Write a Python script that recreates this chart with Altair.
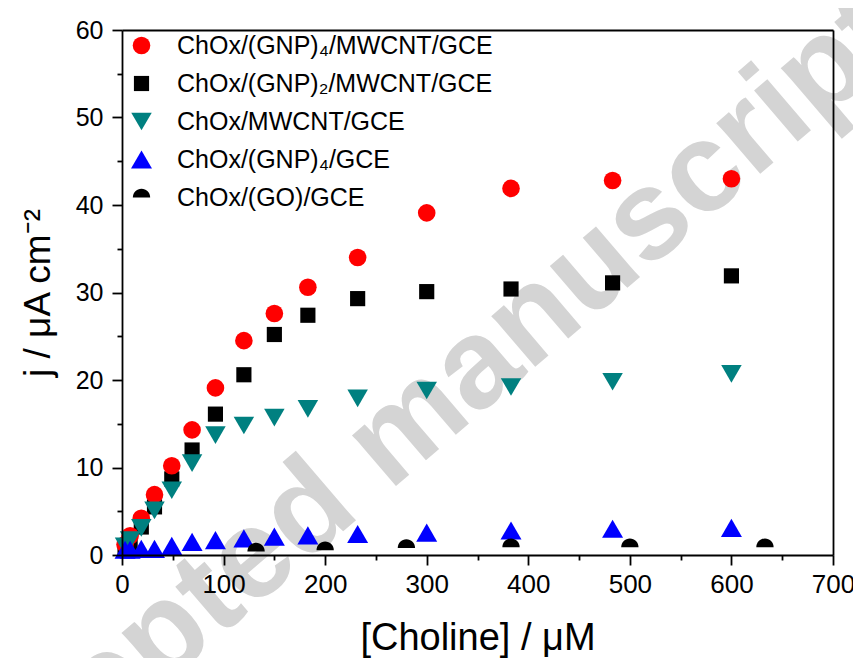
import altair as alt
import pandas as pd

# ---- data ----
conc = [3, 8, 19, 32, 49, 69, 92, 120, 150, 183, 232, 300, 383, 483, 600]
j_gnp4_mwcnt = [1.2, 2.2, 4.2, 6.9, 10.2, 14.3, 19.1, 24.5, 27.6, 30.6, 34.0, 39.1, 41.9, 42.8, 43.0]
j_gnp2_mwcnt = [0.8, 1.4, 3.2, 5.5, 8.7, 12.0, 16.1, 20.6, 25.2, 27.4, 29.3, 30.1, 30.4, 31.1, 31.9]
j_mwcnt = [1.0, 1.7, 3.1, 5.1, 7.4, 10.5, 13.7, 14.8, 15.7, 16.7, 17.9, 18.8, 19.2, 19.8, 20.7]
j_gnp4 = [0.6, 0.6, 0.7, 0.7, 1.05, 1.5, 1.7, 1.9, 2.1, 2.25, 2.4, 2.55, 2.8, 3.0, 3.1]
conc_go = [132, 200, 280, 383, 500, 633]
j_go = [0.4, 0.55, 0.8, 0.9, 0.9, 0.9]

labels = ["ChOx/(GNP)₄/MWCNT/GCE", "ChOx/(GNP)₂/MWCNT/GCE", "ChOx/MWCNT/GCE",
          "ChOx/(GNP)₄/GCE", "ChOx/(GO)/GCE"]
colors = ["#ff0000", "#000000", "#008080", "#0000ff", "#000000"]
shapes = ["circle", "square", "triangle-down", "triangle-up", "M -1 0 A 1 1 0 0 1 1 0 Z"]
sizes = [310, 230, 420, 440, 300]

watermark_text = "Accepted manuscript"
watermark_pos = [292, 10.1]

# draw order: squares, circles, down-triangles, up-triangles, half circles
rows = []
for xv, yv in zip(conc, j_gnp2_mwcnt):
    rows.append({"x": xv, "y": yv, "series": labels[1]})
for xv, yv in zip(conc, j_gnp4_mwcnt):
    rows.append({"x": xv, "y": yv, "series": labels[0]})
for xv, yv in zip(conc, j_mwcnt):
    rows.append({"x": xv, "y": yv, "series": labels[2]})
for xv, yv in zip(conc, j_gnp4):
    rows.append({"x": xv, "y": yv, "series": labels[3]})
for xv, yv in zip(conc_go, j_go):
    rows.append({"x": xv, "y": yv, "series": labels[4]})
df = pd.DataFrame(rows)

wm = pd.DataFrame({"x": [watermark_pos[0]], "y": [watermark_pos[1]], "t": [watermark_text]})

FONT = "Liberation Sans"
x_scale = alt.Scale(domain=[0, 700], nice=False, zero=False)
y_scale = alt.Scale(domain=[0, 60], nice=False, zero=False)

x_axis = alt.Axis(
    values=list(range(0, 701, 50)),
    labelExpr="datum.value % 100 === 0 ? datum.label : ''",
    tickSize={"condition": {"test": "datum.value % 100 !== 0", "value": 5}, "value": 10},
    title="[Choline] / μM", titleFontSize=38, titleFont=FONT, titleFontWeight="normal",
    titlePadding=22, labelFont=FONT, labelFontSize=26, labelPadding=6,
    labelOverlap=False, labelFlush=False, grid=False, domainColor="black",
    domainWidth=1.8, tickColor="black", tickWidth=1.8, labelColor="black",
    titleColor="black", zindex=1,
)
y_axis = alt.Axis(
    values=list(range(0, 61, 5)),
    labelExpr="datum.value % 10 === 0 ? datum.label : ''",
    tickSize={"condition": {"test": "datum.value % 10 !== 0", "value": 5}, "value": 10},
    title="j / μA cm⁻²", titleFontSize=37, titleFont=FONT, titleFontWeight="normal",
    titlePadding=18, labelFont=FONT, labelFontSize=25, labelPadding=9,
    labelOverlap=False, labelFlush=False, grid=False, domainColor="black",
    domainWidth=1.8, tickColor="black", tickWidth=1.8, labelColor="black",
    titleColor="black", zindex=1,
)

legend = alt.Legend(
    title=None, orient="none", legendX=7, legendY=3, padding=0,
    labelFont=FONT, labelFontSize=25, labelColor="black", rowPadding=12,
    labelOffset=23, labelLimit=0, symbolStrokeWidth=0, symbolOpacity=1,
)

domain = labels
points = alt.Chart(df).mark_point(filled=True, opacity=1, strokeWidth=0).encode(
    x=alt.X("x:Q", scale=x_scale, axis=x_axis),
    y=alt.Y("y:Q", scale=y_scale, axis=y_axis),
    color=alt.Color("series:N", scale=alt.Scale(domain=domain, range=colors), legend=legend),
    shape=alt.Shape("series:N", scale=alt.Scale(domain=domain, range=shapes), legend=legend),
    size=alt.Size("series:N", scale=alt.Scale(type="ordinal", domain=domain, range=sizes),
                  legend=legend),
)

border_x = alt.Axis(orient="top", ticks=False, labels=False, title=None, grid=False,
                    domainColor="black", domainWidth=1.8, zindex=1)
border_y = alt.Axis(orient="right", ticks=False, labels=False, title=None, grid=False,
                    domainColor="black", domainWidth=1.8, zindex=1)

mark_wm = alt.Chart(wm).mark_text(
    angle=319.4, font=FONT, fontWeight="bold", fontSize=127, color="#d4d4d4",
    align="center", baseline="alphabetic",
).encode(
    x=alt.X("x:Q", scale=x_scale, axis=border_x),
    y=alt.Y("y:Q", scale=y_scale, axis=border_y),
    text="t:N",
)

chart = alt.layer(mark_wm, points).resolve_axis(x="independent", y="independent").properties(
    width=711, height=525,
    autosize=alt.AutoSizeParams(type="none"),
    padding={"left": 114, "top": 22, "right": 20, "bottom": 103},
).configure_view(stroke=None).configure(background="white")

chart.save("out.html", embed_options={"renderer": "svg", "actions": False})
